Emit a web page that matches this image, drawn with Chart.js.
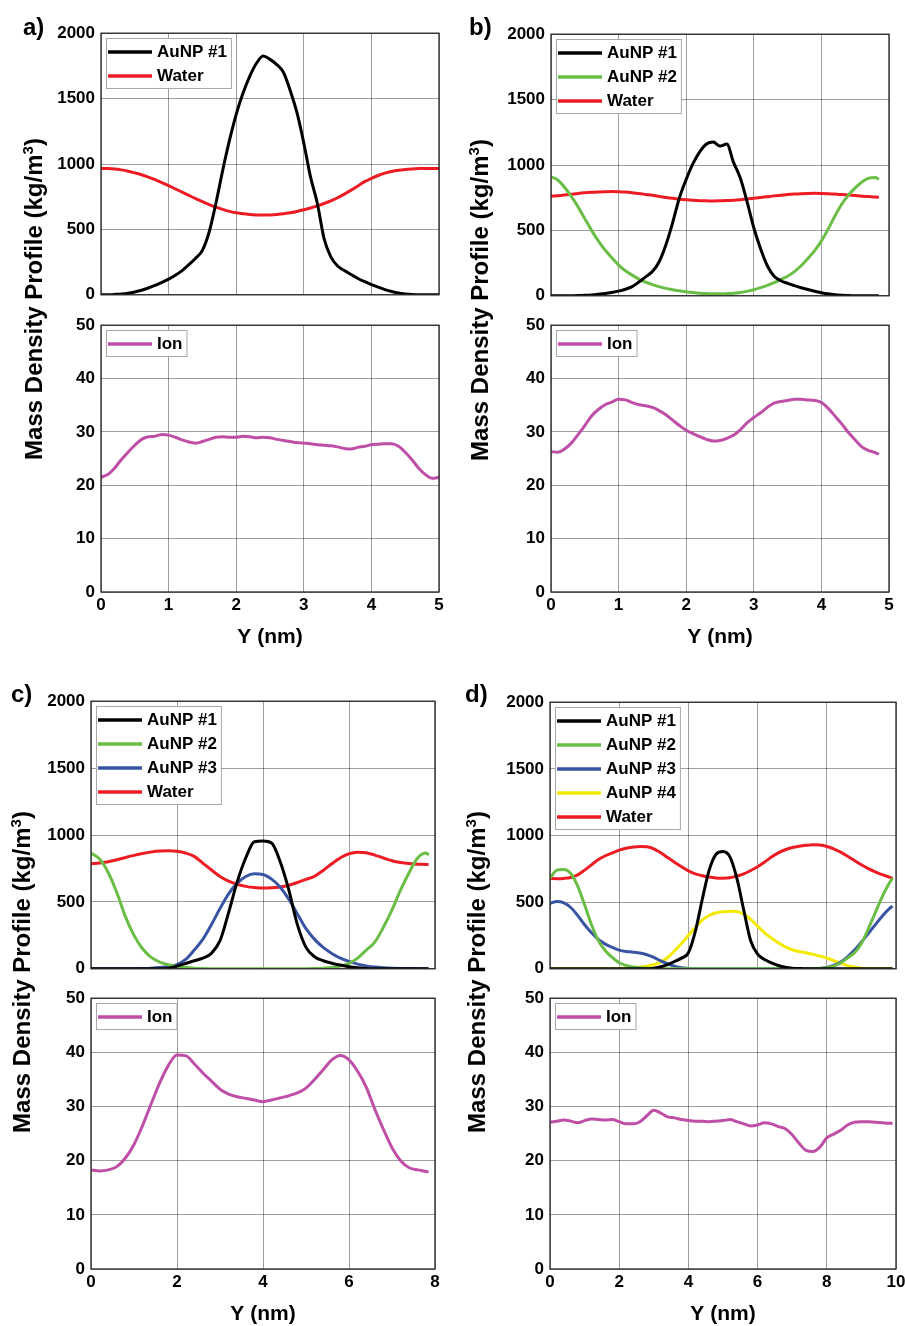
<!DOCTYPE html>
<html>
<head>
<meta charset="utf-8">
<script src="https://cdn.jsdelivr.net/npm/chart.js@4.4.1/dist/chart.umd.min.js"></script>
<style>
  body { margin: 0; background: #fff; width: 905px; height: 1326px; position: relative; overflow: hidden;
         font-family: "Liberation Sans", Arial, sans-serif; }
  canvas { position: absolute; }
  .panel-tag { position: absolute; font-weight: bold; font-size: 24px; line-height: 1; }
  .y-title { position: absolute; font-weight: bold; font-size: 24px; line-height: 24px; white-space: nowrap;
             transform: translate(-50%, -50%) rotate(-90deg); }
  .y-title sup { font-size: 15px; line-height: 0; vertical-align: 9px; }
</style>
</head>
<body>
<script>
// Y positions (nm)
const posA = [0,0.1,0.2,0.3,0.4,0.5,0.6,0.7,0.8,0.9,1.0,1.1,1.2,1.3,1.4,1.5,1.6,1.7,1.8,1.9,
  2.0,2.1,2.2,2.3,2.4,2.5,2.6,2.7,2.8,2.9,3.0,3.1,3.2,3.3,3.4,3.5,3.6,3.7,3.8,3.9,
  4.0,4.1,4.2,4.3,4.4,4.5,4.6,4.7,4.8,4.9,5.0];
const posB = [0,0.1,0.2,0.3,0.4,0.5,0.6,0.7,0.8,0.9,1.0,1.1,1.2,1.3,1.4,1.5,1.6,1.7,1.8,1.9,
  2.0,2.1,2.2,2.3,2.4,2.5,2.6,2.7,2.8,2.9,3.0,3.1,3.2,3.3,3.4,3.5,3.6,3.7,3.8,3.9,
  4.0,4.1,4.2,4.3,4.4,4.5,4.6,4.7,4.8,4.85];
const posC = [0,0.2,0.4,0.6,0.8,1.0,1.2,1.4,1.6,1.8,2.0,2.2,2.4,2.6,2.8,3.0,3.2,3.4,3.6,3.8,
  4.0,4.2,4.4,4.6,4.8,5.0,5.2,5.4,5.6,5.8,6.0,6.2,6.4,6.6,6.8,7.0,7.2,7.4,7.6,7.8,7.85];
const posD = [0,0.2,0.4,0.6,0.8,1.0,1.2,1.4,1.6,1.8,2.0,2.2,2.4,2.6,2.8,3.0,3.2,3.4,3.6,3.8,
  4.0,4.2,4.4,4.6,4.8,5.0,5.2,5.4,5.6,5.8,6.0,6.2,6.4,6.6,6.8,7.0,7.2,7.4,7.6,7.8,
  8.0,8.2,8.4,8.6,8.8,9.0,9.2,9.4,9.6,9.8,9.9];

// Panel a (kg/m3)
const aAuNP1 = [0,1,3,6,12,22,35,52,72,95,120,150,185,230,280,340,480,700,950,1180,
  1380,1540,1670,1770,1825,1800,1760,1700,1560,1390,1160,900,700,430,290,220,185,155,125,100,
  78,58,40,25,13,6,2,0,0,0,0];
const aWater = [965,965,962,955,945,932,918,900,880,858,835,810,785,760,735,712,690,670,653,638,
  627,619,614,611,610,611,614,619,627,637,650,664,680,698,718,742,770,800,832,865,
  890,912,930,943,952,958,962,965,966,966,966];
const aIon = [21.5,22.0,23.2,24.8,26.2,27.5,28.6,29.1,29.2,29.5,29.4,29.0,28.5,28.1,27.9,28.2,28.6,29.0,29.1,29.0,
  29.0,29.2,29.1,28.9,29.0,28.9,28.6,28.4,28.2,28.0,27.9,27.8,27.6,27.5,27.4,27.2,26.9,26.8,27.1,27.3,
  27.6,27.7,27.8,27.8,27.3,26.2,24.8,23.2,22.0,21.3,21.5];

// Panel b
const bAuNP1 = [0,0,0,1,2,4,7,12,18,26,36,50,70,105,145,185,260,390,560,750,
  890,1010,1100,1160,1175,1145,1160,1020,900,720,520,360,230,150,115,95,78,62,48,35,
  24,15,9,5,2,1,0,0,0,0];
const bAuNP2 = [910,885,830,760,680,590,500,420,350,290,235,192,158,128,104,86,70,57,47,38,
  31,25,20,17,15,15,17,20,26,34,46,62,80,100,125,150,185,230,285,345,
  420,510,610,700,770,825,870,900,905,890];
const bWater = [762,765,770,776,782,787,791,794,796,797,796,793,788,782,775,768,760,752,745,739,
  734,730,727,726,725,726,728,731,735,740,746,752,758,764,769,774,778,781,783,784,
  783,781,778,774,770,766,762,759,756,752];
const bIon = [26.3,26.2,26.8,27.9,29.5,31.2,33.0,34.2,35.1,35.6,36.1,36.0,35.5,35.1,34.9,34.6,34.0,33.2,32.2,31.2,
  30.3,29.7,29.1,28.6,28.3,28.4,28.8,29.4,30.4,31.7,32.7,33.6,34.6,35.4,35.7,35.9,36.1,36.1,36.0,35.9,
  35.5,34.4,33.0,31.5,29.9,28.5,27.2,26.5,26.1,25.8];

// Panel c
const cAuNP1 = [0,0,0,0,0,0,0,0,0,5,20,40,60,80,115,210,420,650,830,950,
  955,940,800,590,330,160,90,60,42,28,15,7,3,1,0,0,0,0,0,0,0];
const cAuNP2 = [865,820,720,570,390,250,150,85,50,30,18,10,5,2,0,0,0,0,0,0,
  0,0,0,0,0,0,2,5,10,20,40,80,140,200,310,440,590,720,830,865,850];
const cAuNP3 = [0,0,0,0,0,0,2,5,10,18,32,70,140,220,330,450,560,640,690,710,
  705,670,610,520,410,300,220,160,115,80,55,35,22,13,8,5,3,2,1,0,0];
const cWater = [785,790,800,815,832,848,862,873,880,882,878,865,840,790,738,690,655,632,616,607,
  603,605,612,625,645,668,692,735,785,830,860,872,868,850,828,808,795,787,782,780,778];
const cIon = [18.3,18.1,18.3,18.9,20.5,23.0,26.5,30.5,34.4,37.6,39.5,39.4,37.9,36.2,34.7,33.2,32.3,31.8,31.5,31.2,
  30.9,31.2,31.6,32.0,32.5,33.4,35.0,36.8,38.6,39.4,38.6,36.5,33.6,29.5,25.8,22.4,20.0,18.7,18.3,18.0,17.9];

// Panel d
const dAuNP1 = [0,0,0,0,0,0,0,0,0,0,0,0,0,0,0,5,15,32,55,80,
  120,280,520,740,860,880,840,680,440,210,110,70,45,25,12,5,2,0,0,0,
  0,0,0,0,0,0,0,0,0,0,0];
const dAuNP2 = [680,740,745,715,620,480,330,210,135,85,45,25,14,8,4,2,0,0,0,0,
  0,0,0,0,0,0,0,0,0,0,0,0,0,0,0,0,0,0,0,3,
  8,20,45,80,120,190,300,420,540,640,680];
const dAuNP3 = [490,505,495,460,400,330,270,220,185,160,140,130,125,118,105,85,60,38,20,8,
  3,0,0,0,0,0,0,0,0,0,0,0,0,0,0,0,0,0,0,3,
  10,25,50,90,140,200,265,330,395,450,470];
const dAuNP4 = [0,0,0,0,0,0,0,0,0,0,2,4,7,12,20,32,50,85,135,190,
  250,310,365,400,420,428,432,430,410,370,320,270,230,195,165,143,130,120,108,95,
  80,62,42,24,12,5,2,0,0,0,0];
const dWater = [678,676,678,685,705,740,780,820,848,870,890,905,913,918,915,900,870,835,800,765,
  735,712,698,688,682,680,683,695,712,737,765,800,838,870,893,910,920,926,930,928,
  918,900,875,845,812,780,752,728,706,688,678];
const dIon = [27.1,27.3,27.5,27.3,27.0,27.4,27.7,27.6,27.5,27.6,27.2,26.8,26.8,27.2,28.3,29.3,28.8,28.1,27.9,27.6,
  27.4,27.3,27.3,27.2,27.3,27.4,27.6,27.2,26.8,26.4,26.6,27.0,26.8,26.3,25.9,24.8,23.2,21.9,21.7,22.5,
  24.2,24.9,25.6,26.6,27.1,27.2,27.2,27.1,27.0,26.9,26.9];

document.addEventListener('DOMContentLoaded', function() {
  const FONT = '"Liberation Sans", Arial, sans-serif';
  const BLACK = '#000000', GREEN = '#6abd45', BLUE = '#3a54a4', YELLOW = '#f4ea00', RED = '#ed1c24', ION = '#bf4ea7';

  // Frame round the axes plus a MATLAB-like legend box in the top-left corner
  const frameLegend = {
    id: 'frameLegend',
    afterDatasetsDraw(chart) {
      const ctx = chart.ctx;
      const a = chart.chartArea;
      ctx.save();
      ctx.strokeStyle = '#262626';
      ctx.lineWidth = 1.3;
      ctx.strokeRect(a.left, a.top, a.right - a.left, a.bottom - a.top);

      const sets = chart.data.datasets;
      ctx.font = 'bold 17px ' + FONT;
      const textW = Math.max(...sets.map(d => ctx.measureText(d.label).width));
      const bx = Math.round(a.left) + 5, by = Math.round(a.top) + 5;
      const bw = 51 + textW + 4, bh = 26 + (sets.length - 1) * 24;
      ctx.fillStyle = '#fff';
      ctx.fillRect(bx, by, bw, bh);
      ctx.strokeStyle = '#a8a8a8';
      ctx.lineWidth = 1;
      ctx.strokeRect(bx + 0.5, by + 0.5, bw, bh);
      sets.forEach((d, i) => {
        const cy = by + 14 + i * 24;
        ctx.strokeStyle = d.borderColor;
        ctx.lineWidth = 3.5;
        ctx.beginPath();
        ctx.moveTo(bx + 2, cy);
        ctx.lineTo(bx + 46, cy);
        ctx.stroke();
        ctx.fillStyle = '#000';
        ctx.textBaseline = 'middle';
        ctx.textAlign = 'left';
        ctx.fillText(d.label, bx + 51, cy);
      });
      ctx.restore();
    }
  };

  function addPlot(box, pos, series, xMax, xStep, yMax, yStep, showX) {
    const axisW = 70, padTop = 12, padRight = 16;
    const axisH = showX ? 58 : 0;
    const padBottom = showX ? 0 : 12;
    const canvas = document.createElement('canvas');
    canvas.width = box.w + axisW + padRight;
    canvas.height = box.h + padTop + axisH + padBottom;
    canvas.style.left = (box.x - axisW) + 'px';
    canvas.style.top = (box.y - padTop) + 'px';
    document.body.appendChild(canvas);

    const tickFont = { family: FONT, size: 17, weight: 'bold' };
    const gridColor = 'rgba(0,0,0,0.38)';

    new Chart(canvas, {
      type: 'line',
      data: {
        datasets: series.map(s => ({
          label: s.label,
          data: pos.map((p, i) => ({ x: p, y: s.values[i] })),
          borderColor: s.color,
          borderWidth: 3,
          pointRadius: 0,
          cubicInterpolationMode: 'monotone',
          fill: false
        }))
      },
      options: {
        responsive: false,
        animation: false,
        events: [],
        layout: { padding: { top: padTop, right: padRight, bottom: padBottom, left: 0 } },
        plugins: { legend: { display: false }, tooltip: { enabled: false } },
        scales: {
          x: {
            type: 'linear', min: 0, max: xMax,
            afterFit: s => { s.height = axisH; },
            grid: { color: gridColor, drawTicks: false },
            border: { display: false },
            ticks: { display: showX, stepSize: xStep, padding: 3, maxRotation: 0, color: '#000', font: tickFont,
                     callback: v => String(v) },
            title: { display: showX, text: 'Y (nm)', color: '#000', padding: 0,
                     font: { family: FONT, size: 21, weight: 'bold' } }
          },
          y: {
            min: 0, max: yMax,
            afterFit: s => { s.width = axisW; },
            grid: { color: gridColor, drawTicks: false },
            border: { display: false },
            ticks: { stepSize: yStep, padding: 6, color: '#000', font: tickFont, callback: v => String(v) }
          }
        }
      },
      plugins: [frameLegend]
    });
  }

  function addText(cls, html, x, y) {
    const el = document.createElement('div');
    el.className = cls;
    el.innerHTML = html;
    el.style.left = x + 'px';
    el.style.top = y + 'px';
    document.body.appendChild(el);
  }

  const panels = [
    { tag: 'a)', tagX: 23, tagY: 15, titleX: 34, titleY: 299,
      top: { x: 101, y: 29, w: 338, h: 270 }, bottom: { x: 101, y: 321, w: 338, h: 271 },
      pos: posA, xMax: 5, xStep: 1,
      series: [{ label: 'AuNP #1', values: aAuNP1, color: BLACK }, { label: 'Water', values: aWater, color: RED }],
      ion: aIon },
    { tag: 'b)', tagX: 469, tagY: 15, titleX: 480, titleY: 300,
      top: { x: 551, y: 30, w: 338, h: 270 }, bottom: { x: 551, y: 321, w: 338, h: 271 },
      pos: posB, xMax: 5, xStep: 1,
      series: [{ label: 'AuNP #1', values: bAuNP1, color: BLACK }, { label: 'AuNP #2', values: bAuNP2, color: GREEN },
               { label: 'Water', values: bWater, color: RED }],
      ion: bIon },
    { tag: 'c)', tagX: 11, tagY: 682, titleX: 22, titleY: 972,
      top: { x: 91, y: 697, w: 344, h: 276 }, bottom: { x: 91, y: 994, w: 344, h: 275 },
      pos: posC, xMax: 8, xStep: 2,
      series: [{ label: 'AuNP #1', values: cAuNP1, color: BLACK }, { label: 'AuNP #2', values: cAuNP2, color: GREEN },
               { label: 'AuNP #3', values: cAuNP3, color: BLUE }, { label: 'Water', values: cWater, color: RED }],
      ion: cIon },
    { tag: 'd)', tagX: 465, tagY: 682, titleX: 477, titleY: 972,
      top: { x: 550, y: 698, w: 346, h: 275 }, bottom: { x: 550, y: 994, w: 346, h: 275 },
      pos: posD, xMax: 10, xStep: 2,
      series: [{ label: 'AuNP #1', values: dAuNP1, color: BLACK }, { label: 'AuNP #2', values: dAuNP2, color: GREEN },
               { label: 'AuNP #3', values: dAuNP3, color: BLUE }, { label: 'AuNP #4', values: dAuNP4, color: YELLOW },
               { label: 'Water', values: dWater, color: RED }],
      ion: dIon }
  ];

  panels.forEach(p => {
    addPlot(p.top, p.pos, p.series, p.xMax, p.xStep, 2000, 500, false);
    addPlot(p.bottom, p.pos, [{ label: 'Ion', values: p.ion, color: ION }], p.xMax, p.xStep, 50, 10, true);
    addText('panel-tag', p.tag, p.tagX, p.tagY);
    addText('y-title', 'Mass Density Profile (kg/m<sup>3</sup>)', p.titleX, p.titleY);
  });
});
</script>
</body>
</html>
